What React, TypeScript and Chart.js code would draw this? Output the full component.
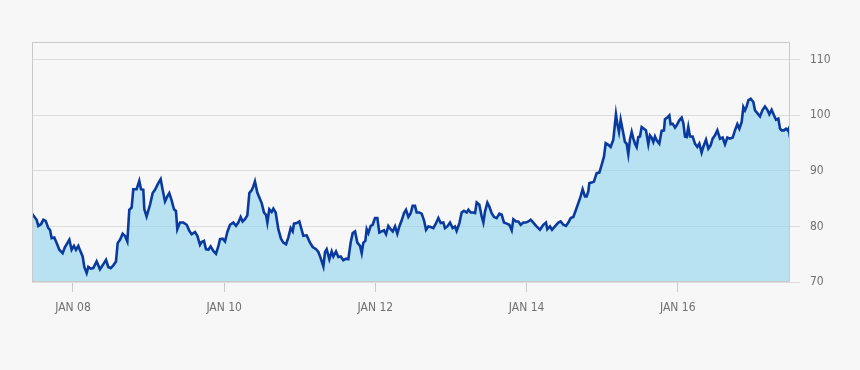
import React, { useEffect, useRef } from "react";
import { Chart, registerables } from "chart.js";

Chart.register(...registerables);

const X_MIN = 2007.458;
const X_MAX = 2017.484;
const Y_MIN = 70;
const Y_MAX = 113.2;

const X_TICKS = [2008, 2010, 2012, 2014, 2016];
const X_TICK_LABELS = ["JAN 08", "JAN 10", "JAN 12", "JAN 14", "JAN 16"];
const Y_TICKS = [70, 80, 90, 100, 110];

const YEARS = [
  2007.458, 2007.519, 2007.542, 2007.577, 2007.608, 2007.639, 2007.674, 2007.696, 2007.718, 2007.753,
  2007.784, 2007.819, 2007.863, 2007.894, 2007.952, 2007.982, 2008.013, 2008.040, 2008.071, 2008.093,
  2008.128, 2008.150, 2008.181, 2008.203, 2008.234, 2008.269, 2008.313, 2008.357, 2008.392, 2008.437,
  2008.467, 2008.498, 2008.534, 2008.569, 2008.591, 2008.622, 2008.657, 2008.688, 2008.719, 2008.745,
  2008.776, 2008.798, 2008.842, 2008.877, 2008.900, 2008.930, 2008.944, 2008.974, 2009.019, 2009.054,
  2009.085, 2009.107, 2009.129, 2009.160, 2009.186, 2009.217, 2009.248, 2009.274, 2009.305, 2009.336,
  2009.362, 2009.380, 2009.415, 2009.459, 2009.504, 2009.539, 2009.570, 2009.614, 2009.645, 2009.680,
  2009.702, 2009.733, 2009.759, 2009.790, 2009.821, 2009.856, 2009.892, 2009.922, 2009.945, 2009.980,
  2010.011, 2010.042, 2010.077, 2010.121, 2010.156, 2010.187, 2010.218, 2010.244, 2010.275, 2010.306,
  2010.333, 2010.363, 2010.385, 2010.407, 2010.438, 2010.465, 2010.496, 2010.527, 2010.553, 2010.571,
  2010.597, 2010.628, 2010.650, 2010.681, 2010.716, 2010.751, 2010.782, 2010.818, 2010.848, 2010.879,
  2010.906, 2010.923, 2010.959, 2010.994,
  2011.047, 2011.091, 2011.135, 2011.171, 2011.215, 2011.246, 2011.276, 2011.312, 2011.334, 2011.356,
  2011.391, 2011.422, 2011.444, 2011.479, 2011.510, 2011.541, 2011.576, 2011.611, 2011.642, 2011.673,
  2011.700, 2011.731, 2011.761, 2011.797, 2011.819, 2011.841, 2011.867, 2011.885, 2011.907, 2011.938,
  2011.964, 2011.995, 2012.026, 2012.052, 2012.083, 2012.114, 2012.141, 2012.171, 2012.202, 2012.229,
  2012.260, 2012.290, 2012.317, 2012.348, 2012.379, 2012.405, 2012.436, 2012.467, 2012.493, 2012.524,
  2012.546, 2012.581, 2012.612, 2012.643, 2012.670, 2012.701, 2012.731, 2012.767, 2012.802, 2012.833,
  2012.864, 2012.899, 2012.921, 2012.952, 2012.987, 2013.022, 2013.053, 2013.075, 2013.111, 2013.141,
  2013.172, 2013.208, 2013.230, 2013.260, 2013.296, 2013.318, 2013.340, 2013.375, 2013.406, 2013.428,
  2013.450, 2013.481, 2013.507, 2013.538, 2013.569, 2013.604, 2013.640, 2013.671, 2013.701, 2013.737,
  2013.772, 2013.803, 2013.825, 2013.860, 2013.891, 2013.922, 2013.957, 2013.992, 2014.023, 2014.054,
  2014.089, 2014.125, 2014.156,
  2014.177, 2014.221, 2014.256, 2014.274, 2014.309, 2014.336, 2014.375, 2014.420, 2014.450, 2014.486,
  2014.521, 2014.552, 2014.583, 2014.618, 2014.653, 2014.684, 2014.715, 2014.741, 2014.772, 2014.794,
  2014.816, 2014.830, 2014.860, 2014.891, 2014.905, 2014.927, 2014.962, 2014.993, 2015.024, 2015.046,
  2015.081, 2015.112, 2015.147, 2015.169, 2015.182, 2015.200, 2015.222, 2015.244, 2015.270, 2015.301,
  2015.323, 2015.345, 2015.367, 2015.390, 2015.412, 2015.434, 2015.456, 2015.478, 2015.500, 2015.522,
  2015.553, 2015.579, 2015.610, 2015.632, 2015.654, 2015.676, 2015.698, 2015.720, 2015.755, 2015.786,
  2015.817, 2015.830, 2015.861, 2015.888, 2015.905, 2015.932, 2015.963, 2015.985, 2016.020, 2016.051,
  2016.073, 2016.095, 2016.117, 2016.139, 2016.161, 2016.196, 2016.227, 2016.258, 2016.285, 2016.315,
  2016.337, 2016.373, 2016.404, 2016.434, 2016.461, 2016.492, 2016.523, 2016.558, 2016.593, 2016.624,
  2016.655, 2016.690, 2016.726, 2016.756, 2016.787, 2016.814, 2016.845, 2016.867, 2016.889, 2016.911,
  2016.933, 2016.964, 2016.999, 2017.021, 2017.052, 2017.087, 2017.122, 2017.153, 2017.184, 2017.211,
  2017.241, 2017.272, 2017.299, 2017.330, 2017.352, 2017.374, 2017.405, 2017.431, 2017.453, 2017.466,
  2017.484,
];

const VALUES = [
  82.3, 81.2, 80.1, 80.4, 81.2, 81.0, 79.7, 79.4, 77.9, 78.0,
  77.0, 75.8, 75.2, 76.3, 77.6, 75.8, 76.5, 75.8, 76.5, 75.7,
  74.6, 72.7, 71.6, 72.7, 72.4, 72.5, 73.7, 72.3, 73.0, 74.0,
  72.7, 72.5, 73.0, 73.7, 77.0, 77.6, 78.7, 78.3, 77.3, 83.0,
  83.4, 86.7, 86.7, 88.2, 86.7, 86.6, 83.1, 81.8, 83.9, 86.0,
  86.6, 87.2, 87.8, 88.5, 86.6, 84.5, 85.4, 86.0, 84.7, 83.1,
  82.8, 79.5, 80.7, 80.7, 80.3, 79.2, 78.6, 79.0, 78.3, 76.7,
  77.2, 77.4, 75.9, 75.8, 76.4, 75.6, 75.1, 76.4, 77.7, 77.8,
  77.3, 79.0, 80.3, 80.7, 80.1, 80.7, 81.7, 80.9, 81.3, 82.0,
  86.0, 86.5, 87.2, 88.1, 86.1, 85.2, 84.2, 82.5, 82.1, 80.7,
  83.1, 82.6, 83.2, 82.5, 79.5, 77.8, 77.1, 76.8, 78.0, 79.7,
  79.1, 80.5, 80.6, 80.9,
  78.3, 78.4, 77.1, 76.3, 75.9, 75.4, 74.3, 72.8, 75.4, 75.9,
  74.1, 75.5, 74.6, 75.5, 74.5, 74.6, 73.9, 74.2, 74.1, 77.1,
  78.8, 79.1, 77.1, 76.5, 75.2, 77.1, 77.4, 79.5, 78.8, 80.1,
  80.3, 81.5, 81.5, 78.9, 79.1, 79.3, 78.6, 80.1, 79.5, 79.1,
  80.0, 78.7, 80.0, 81.1, 82.4, 83.0, 81.7, 82.4, 83.7, 83.7,
  82.5, 82.5, 82.3, 81.1, 79.4, 80.0, 79.9, 79.7, 80.6, 81.5,
  80.6, 80.7, 79.7, 80.0, 80.7, 79.7, 80.0, 79.2, 80.6, 82.5,
  82.8, 82.5, 83.0, 82.5, 82.5, 82.4, 84.3, 83.9, 81.8, 80.7,
  82.7, 84.3, 83.6, 82.4, 81.7, 81.5, 82.3, 82.1, 80.7, 80.5,
  80.3, 79.3, 81.3, 80.9, 80.9, 80.3, 80.7, 80.7, 80.9, 81.2,
  80.7, 80.1, 79.7,
  79.4, 80.3, 80.7, 79.5, 80.0, 79.4, 80.0, 80.7, 80.9, 80.3,
  80.1, 80.7, 81.5, 81.7, 83.0, 84.2, 85.4, 86.7, 85.4, 85.4,
  86.3, 87.8, 87.9, 88.1, 88.7, 89.6, 89.7, 91.1, 92.6, 95.0,
  94.7, 94.3, 95.6, 98.5, 100.2, 98.5, 97.0, 99.2, 97.4, 95.2,
  94.9, 93.0, 95.6, 97.0, 95.8, 94.9, 94.3, 96.1, 96.2, 97.9,
  97.6, 97.3, 94.8, 96.4, 96.0, 95.2, 96.2, 95.5, 94.9, 97.2,
  97.3, 99.3, 99.6, 100.0, 98.4, 98.5, 97.8, 98.2, 99.1, 99.6,
  98.6, 96.2, 96.1, 97.9, 96.2, 96.2, 94.9, 94.3, 94.9, 93.3,
  94.3, 95.6, 94.0, 94.6, 95.8, 96.4, 97.3, 95.8, 96.0, 94.8,
  96.0, 95.8, 96.0, 97.3, 98.4, 97.6, 98.8, 101.5, 100.9, 101.6,
  102.7, 103.0, 102.4, 100.9, 100.4, 99.8, 101.0, 101.6, 101.0, 100.2,
  101.0, 100.0, 99.2, 99.4, 97.6, 97.3, 97.3, 97.6, 97.3, 97.6,
  96.0,
];

const FONT = { family: '"DejaVu Sans Condensed", "DejaVu Sans", sans-serif', size: 12 };

const framePlugin = {
  id: "frame",
  afterDatasetsDraw(chart: any) {
    const { ctx, chartArea } = chart;
    ctx.save();
    ctx.strokeStyle = "#cacaca";
    ctx.lineWidth = 1;
    ctx.strokeRect(
      Math.round(chartArea.left) + 0.5,
      Math.round(chartArea.top) + 0.5,
      Math.round(chartArea.right - chartArea.left) - 1,
      Math.round(chartArea.bottom - chartArea.top) - 1
    );
    ctx.restore();
  },
};

export default function App() {
  const ref = useRef<HTMLCanvasElement | null>(null);

  useEffect(() => {
    if (!ref.current) return;
    const points = YEARS.map((x, i) => ({ x, y: VALUES[i] }));
    const chart = new Chart(ref.current, {
      type: "line",
      data: {
        datasets: [
          {
            data: points,
            borderColor: "#0b3a9f",
            borderWidth: 2.6,
            backgroundColor: "rgba(142, 212, 239, 0.6)",
            fill: "start",
            pointRadius: 0,
            tension: 0,
          },
        ],
      },
      options: {
        animation: false,
        responsive: true,
        maintainAspectRatio: false,
        layout: { padding: { top: 42, left: 32, right: 0, bottom: 0 } },
        plugins: { legend: { display: false }, tooltip: { enabled: false } },
        scales: {
          x: {
            type: "linear",
            min: X_MIN,
            max: X_MAX,
            afterBuildTicks: (s: any) => {
              s.ticks = X_TICKS.map((v) => ({ value: v }));
            },
            afterFit: (s: any) => {
              s.height = 88;
            },
            ticks: {
              autoSkip: false,
              maxRotation: 0,
              padding: 9,
              color: "#707070",
              font: FONT,
              callback: (v: any) => {
                const i = X_TICKS.indexOf(Number(v));
                return i >= 0 ? X_TICK_LABELS[i] : "";
              },
            },
            grid: { drawOnChartArea: false, drawTicks: true, tickLength: 10, color: "#cacaca" },
            border: { display: false },
          },
          y: {
            position: "right",
            min: Y_MIN,
            max: Y_MAX,
            afterBuildTicks: (s: any) => {
              s.ticks = Y_TICKS.map((v) => ({ value: v }));
            },
            afterFit: (s: any) => {
              s.width = 70;
            },
            ticks: {
              padding: 10,
              color: "#707070",
              font: FONT,
            },
            grid: { color: "#dcdcdc", tickLength: 10, drawTicks: true },
            border: { display: false },
          },
        },
      },
      plugins: [framePlugin],
    });
    return () => chart.destroy();
  }, []);

  return (
    <div
      style={{
        position: "fixed",
        left: 0,
        top: 0,
        width: 860,
        height: 370,
        background: "#f7f7f7",
      }}
    >
      <canvas ref={ref} />
    </div>
  );
}
